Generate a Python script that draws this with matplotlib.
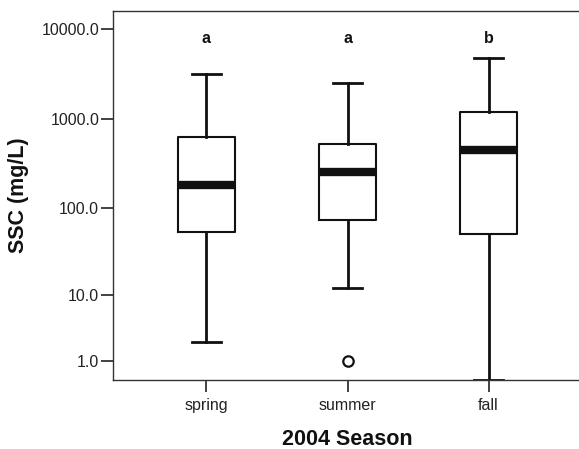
import numpy as np
import matplotlib
matplotlib.use("Agg")
import matplotlib.pyplot as plt
import matplotlib.transforms as mtransforms

# data (mg/L)
seasons = ["spring", "summer", "fall"]
whisker_hi = [3180, 2540, 4750]
q3 = [626, 531, 1190]
median = [181, 254, 448]
q1 = [54, 75, 51]
whisker_lo = [2.3, 12.0, 0.25]
outliers = [[], [1.0], []]
group_letters = ["a", "a", "b"]
yticks = [1.0, 10.0, 100.0, 1000.0, 10000.0]

plt.rcParams['font.family'] = ['Liberation Sans', 'DejaVu Sans']

fig = plt.figure(figsize=(5.79, 4.49), dpi=100)
ax = fig.add_axes([113/579, 69/449, 469/579, 369/449])

# axis drawn as log10(y + 1)
ax.set_yscale('function', functions=(lambda y: np.log10(np.clip(y + 1, 1e-9, None)),
                                     lambda t: 10**t - 1))

stats = []
for i in range(len(seasons)):
    stats.append(dict(med=median[i], q1=q1[i], q3=q3[i],
                      whislo=whisker_lo[i], whishi=whisker_hi[i],
                      fliers=outliers[i], label=seasons[i]))

pos = np.arange(1, len(seasons) + 1)
ax.bxp(stats, positions=pos, widths=0.41, capwidths=0.2, patch_artist=False,
       boxprops=dict(color='#111111', linewidth=1.5),
       whiskerprops=dict(color='#111111', linewidth=2.0),
       capprops=dict(color='#111111', linewidth=2.0),
       medianprops=dict(color='#111111', linewidth=6.0, solid_capstyle='butt'),
       flierprops=dict(marker='o', markersize=7.5, markerfacecolor='white',
                       markeredgecolor='#111111', markeredgewidth=1.6))

trans = mtransforms.blended_transform_factory(ax.transData, ax.transAxes)
for p, letter in zip(pos, group_letters):
    ax.text(p, 0.926, letter, transform=trans, ha='center', va='center',
            fontsize=11.5, fontweight='bold', color='#111111')

ax.set_xlim(0.337, 3.663)
ax.set_ylim(0.238, 16000)
ax.set_yticks(yticks)
ax.set_yticklabels(["%.1f" % v for v in yticks])
ax.yaxis.set_minor_locator(matplotlib.ticker.NullLocator())
ax.set_xticks(pos)
ax.set_xticklabels(seasons)

for s in ['left', 'top', 'bottom']:
    ax.spines[s].set_color('#333333')
    ax.spines[s].set_linewidth(1.0)
ax.spines['right'].set_visible(False)
ax.tick_params(axis='both', length=8.4, width=1.3, color='#333333',
               labelsize=11.5, labelcolor='#222222', pad=1.5)
ax.tick_params(axis='x', pad=4.5)

ax.set_ylabel("SSC (mg/L)", fontsize=15.5, fontweight='bold', color='#111111')
ax.set_xlabel("2004 Season", fontsize=15.5, fontweight='bold', color='#111111')
ax.yaxis.set_label_coords(-0.180, 0.5)
ax.xaxis.set_label_coords(0.5, -0.133)

fig.savefig("out.png", dpi=100)
